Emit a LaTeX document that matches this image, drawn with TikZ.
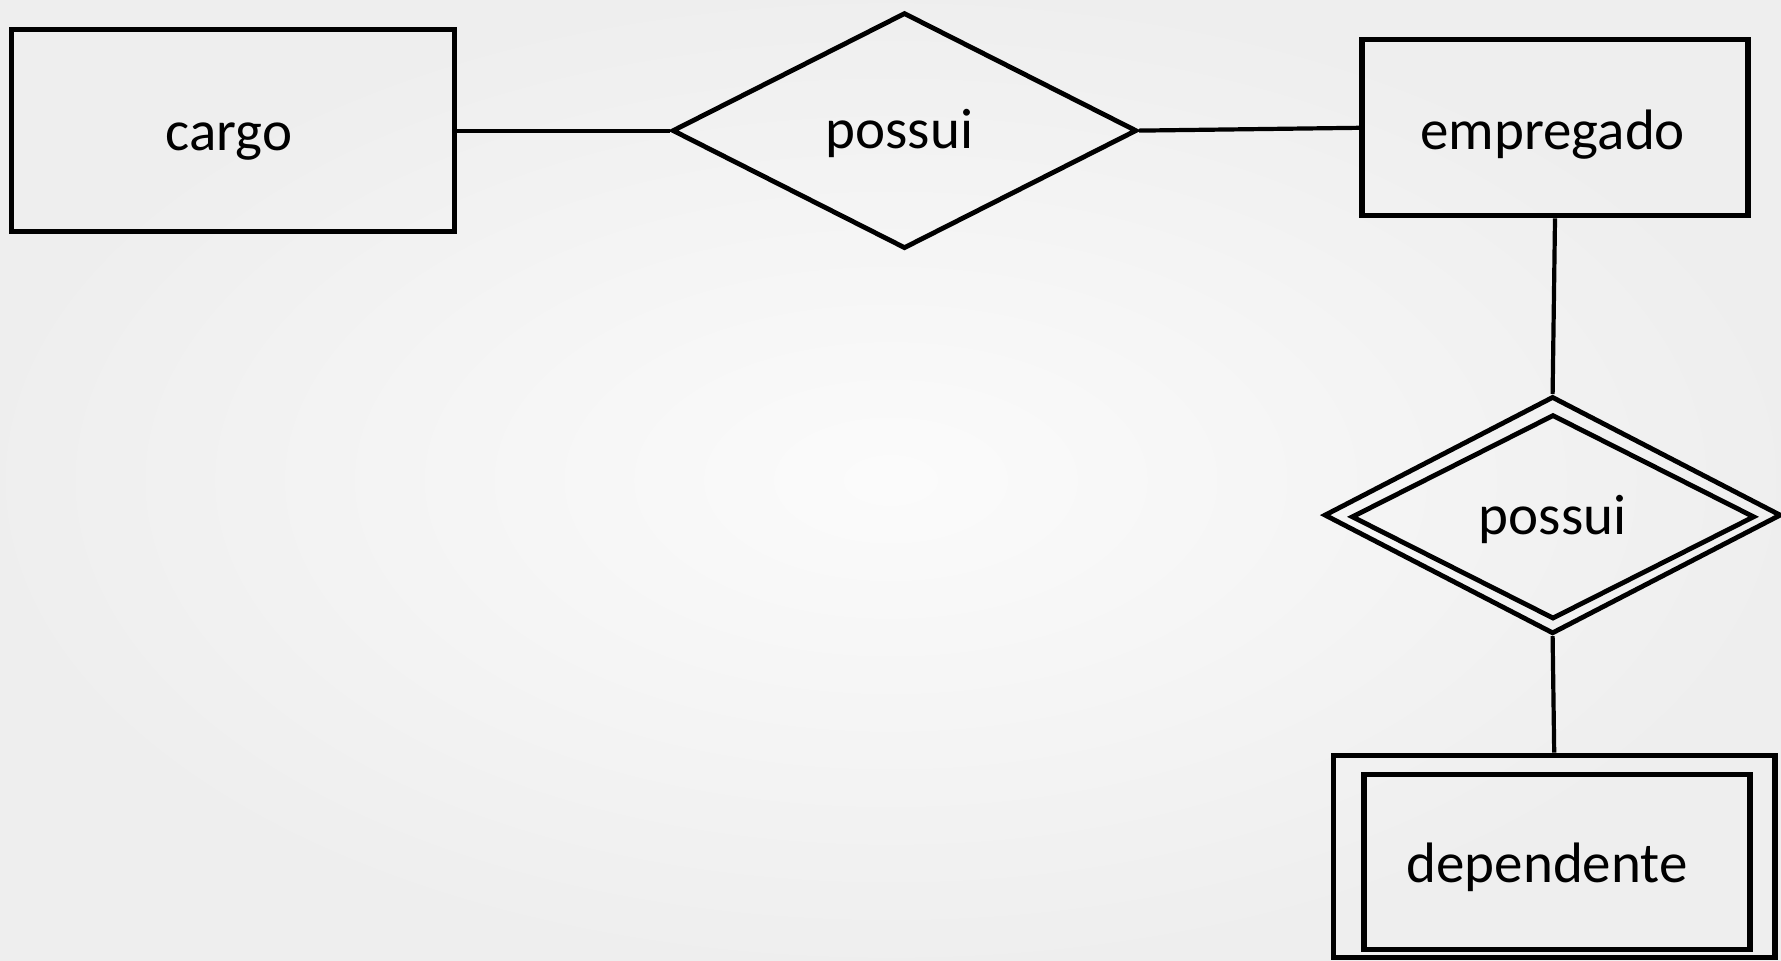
\documentclass[tikz,border=0pt]{standalone}
\usepackage{fontspec}
\setmainfont{Carlito}
\usetikzlibrary{shapes.geometric}
\begin{document}
\begin{tikzpicture}[x=0.5pt,y=-0.5pt,
  lbl/.style={font=\fontsize{28.5}{34}\selectfont, text=black, anchor=base, inner sep=0pt},
  entity/.style={draw=black, line width=2.6pt, rectangle, inner sep=0pt},
  rel/.style={draw=black, line width=2.4pt, diamond, inner sep=0pt},
  conn/.style={draw=black, line width=2.1pt}]
\useasboundingbox (0,0) rectangle (1781,960);
\shade[inner color=white!98.5!black, outer color=white!93.5!black] (0,0) rectangle (1781,960);

\node[entity, minimum width=221.5pt, minimum height=101pt] (cargo) at (232.9,130.6) {};
\node[rel, minimum width=232.3pt, minimum height=118pt] (d1) at (904.5,130.6) {};
\node[entity, minimum width=193pt, minimum height=88pt] (emp) at (1555,127.8) {};

\node[rel, minimum width=228.5pt, minimum height=118.7pt] (d2) at (1552.6,515.1) {};
\node[rel, minimum width=201.6pt, minimum height=102.2pt] (d2in) at (1553,516.8) {};

\node[entity, minimum width=220.8pt, minimum height=101.1pt] (dep) at (1554.2,856.4) {};
\node[entity, minimum width=193pt, minimum height=87.5pt] (depin) at (1557,862.1) {};

\node[lbl] (tcargo) at (229,150) {cargo};
\node[lbl] (td1) at (899.5,148.5) {possui};
\node[lbl] (temp) at (1552.7,149) {empregado};
\node[lbl] (td2) at (1552.7,534.5) {possui};
\node[lbl] (tdep) at (1547,882.7) {dependente};

\draw[conn] (cargo.east) -- (d1.west);
\draw[conn] (d1.east) -- (emp.west);
\draw[conn] (emp.south) -- (d2.north);
\draw[conn] (d2.south) -- (dep.north);
\end{tikzpicture}
\end{document}
